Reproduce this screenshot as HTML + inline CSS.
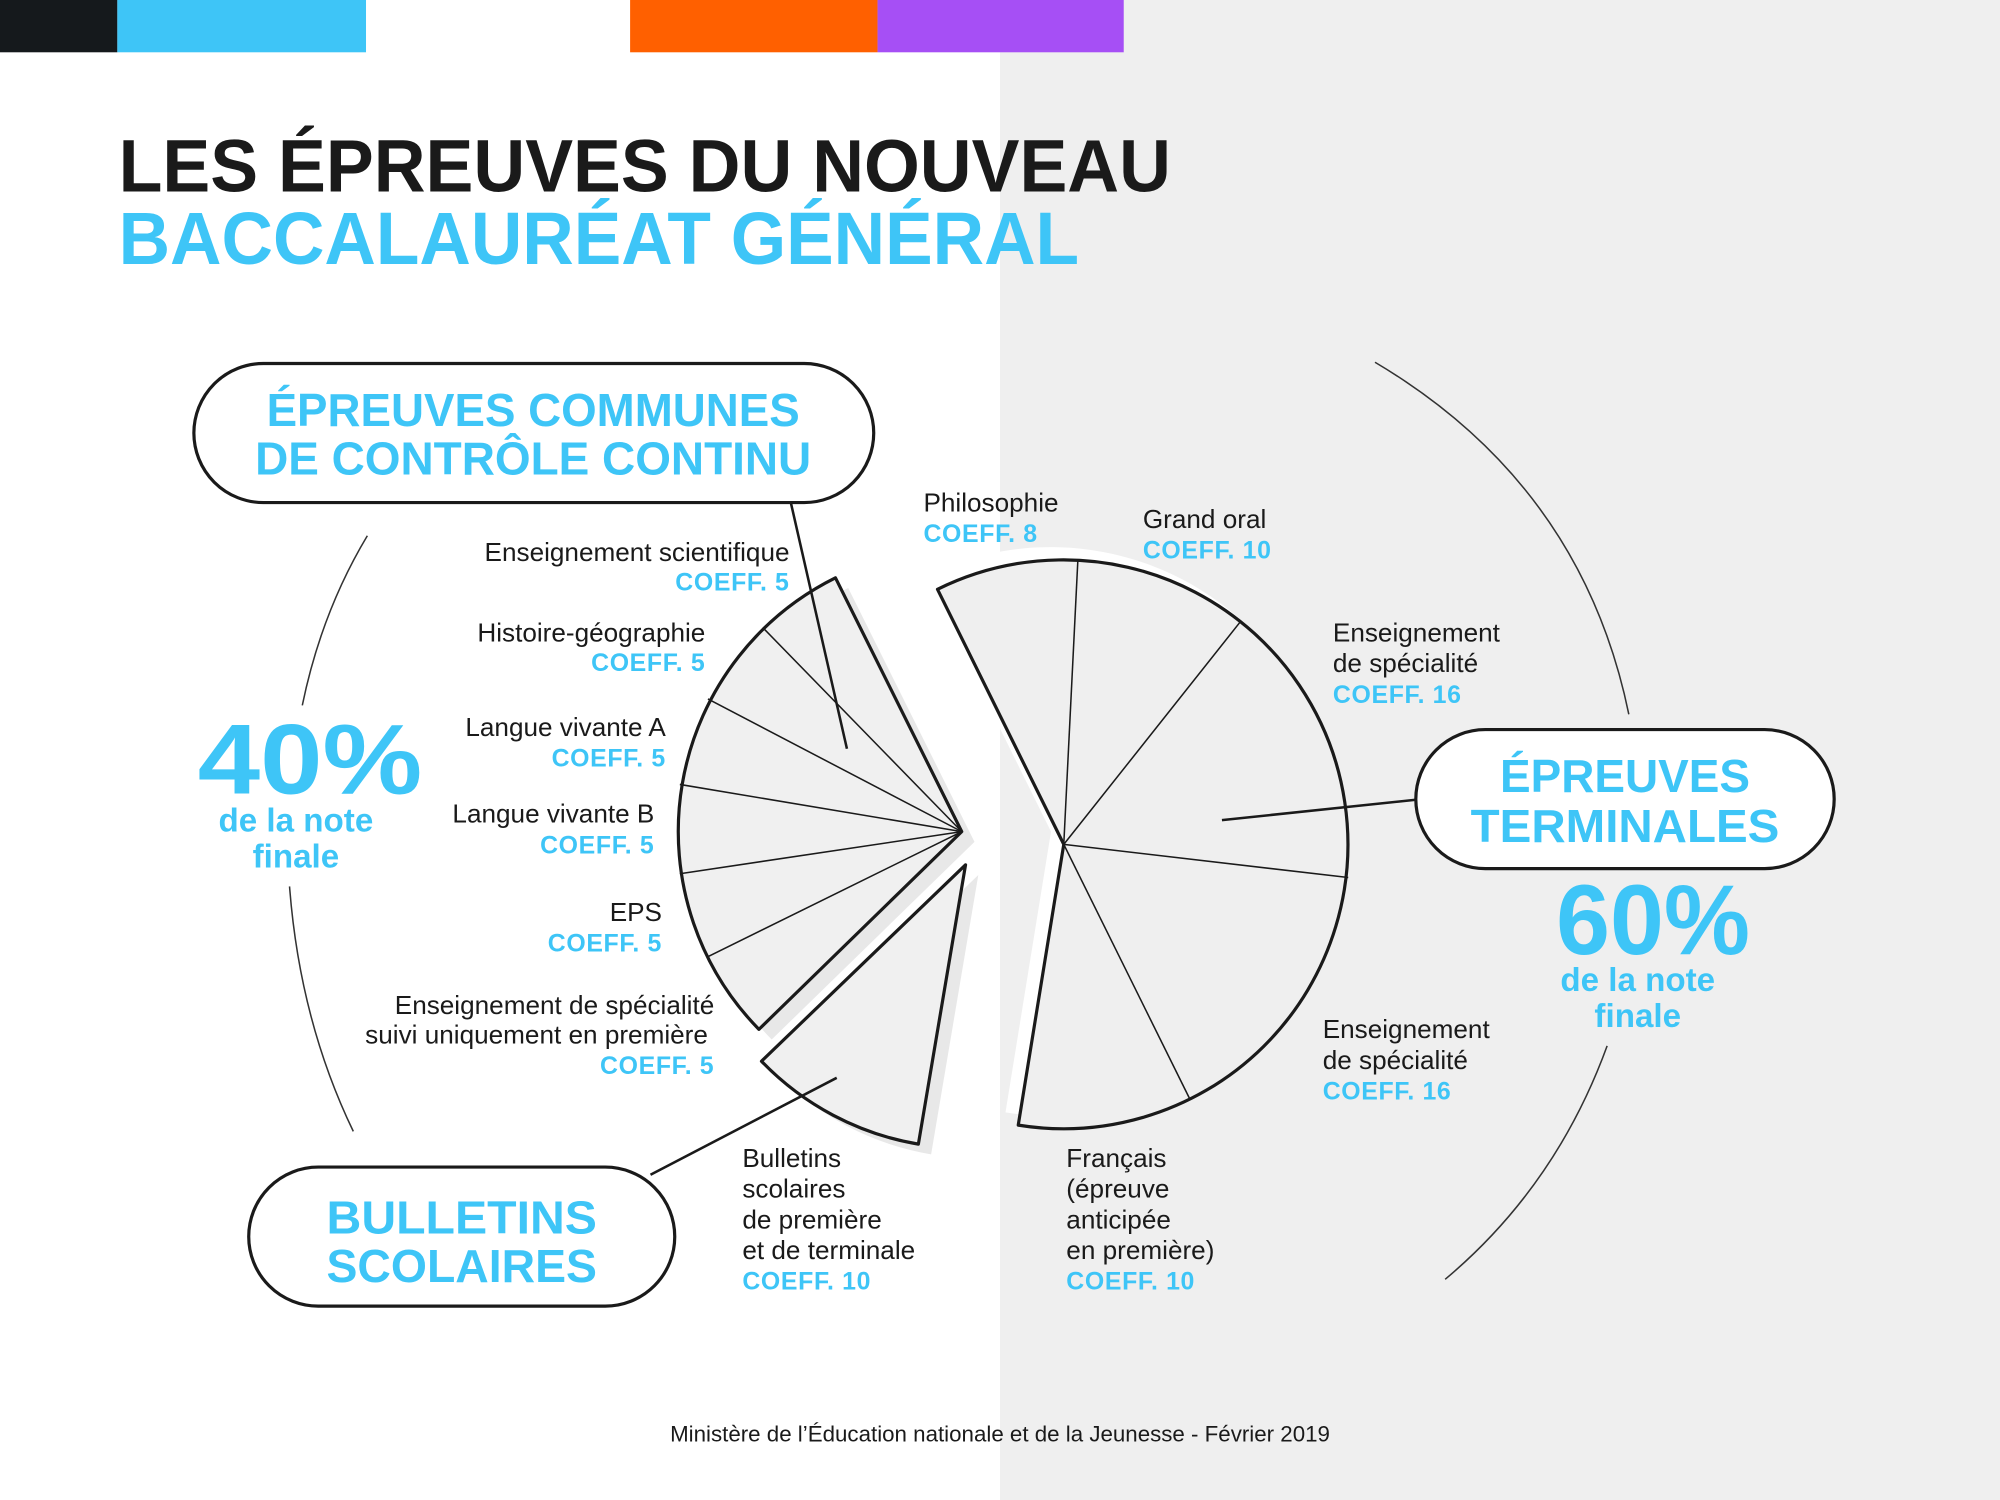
<!DOCTYPE html>
<html><head><meta charset="utf-8"><style>
html,body{margin:0;padding:0;background:#fff;}
svg{display:block;}
text{font-family:"Liberation Sans",sans-serif;}
.b{fill:#3ec5f7;font-weight:bold;}
.l{font-size:20.5px;fill:#1a1a1a;}
.c{font-size:19.5px;fill:#3ec5f7;font-weight:bold;letter-spacing:0.5px;}
.pill{fill:#fff;stroke:#1a1a1a;stroke-width:2.5;}
.ln{stroke:#1a1a1a;stroke-width:2;fill:none;}
.thin{stroke:#333;stroke-width:1.2;fill:none;}
</style></head><body>
<svg width="2000" height="1500" viewBox="0 0 1568 1176" xmlns="http://www.w3.org/2000/svg">
<rect x="784" y="0" width="784" height="1176" fill="#efefef"/>
<rect x="0" y="0" width="92" height="41" fill="#15191c"/>
<rect x="92" y="0" width="195" height="41" fill="#3ec5f7"/>
<rect x="287" y="0" width="207" height="41" fill="#fff"/>
<rect x="494" y="0" width="194" height="41" fill="#ff6000"/>
<rect x="688" y="0" width="193" height="41" fill="#a64ff5"/>

<text x="93" y="150" font-size="58" font-weight="bold" fill="#1a1a1a" textLength="825" lengthAdjust="spacingAndGlyphs">LES ÉPREUVES DU NOUVEAU</text>
<text x="93" y="207" font-size="58" font-weight="bold" fill="#3ec5f7" textLength="753" lengthAdjust="spacingAndGlyphs">BACCALAURÉAT GÉNÉRAL</text>

<path class="thin" d="M288,420 Q252,480 237,553"/>
<path class="thin" d="M227,695 Q235,800 277,887"/>
<path class="thin" d="M1078,284 Q1240,380 1277,560"/>
<path class="thin" d="M1260,820 Q1220,930 1133,1003"/>

<path d="M764,660 L665,461 A222,222 0 0 0 605,815 Z" fill="#e8e8e8"/>
<path d="M754,652 L655,453 A222,222 0 0 0 595,807 Z" fill="#f0f0f0" stroke="#1a1a1a" stroke-width="2.5" stroke-linejoin="round"/>
<g stroke="#1a1a1a" stroke-width="1.2">
<line x1="754" y1="652" x2="598" y2="492"/>
<line x1="754" y1="652" x2="555" y2="548"/>
<line x1="754" y1="652" x2="533" y2="615"/>
<line x1="754" y1="652" x2="533" y2="685"/>
<line x1="754" y1="652" x2="555" y2="750"/>
</g>
<path d="M767,686 L607,840 A222,222 0 0 0 730,905 Z" fill="#e8e8e8"/>
<path d="M757,678 L597,832 A222,222 0 0 0 720,897 Z" fill="#f0f0f0" stroke="#1a1a1a" stroke-width="2.5" stroke-linejoin="round"/>

<path d="M824,652 L725,452 A223,223 0 1 1 788.3,872.1 Z" fill="#fff"/>
<path d="M834,662 L735,462 A223,223 0 1 1 798.3,882.1 Z" fill="#efefef" stroke="#1a1a1a" stroke-width="2.5" stroke-linejoin="round"/>
<g stroke="#1a1a1a" stroke-width="1.2">
<line x1="834" y1="662" x2="845" y2="440"/>
<line x1="834" y1="662" x2="972" y2="488"/>
<line x1="834" y1="662" x2="1057" y2="688"/>
<line x1="834" y1="662" x2="933" y2="862"/>
</g>

<line class="ln" x1="620" y1="394" x2="664" y2="587"/>
<line class="ln" x1="1110" y1="627" x2="958" y2="643"/>
<line class="ln" x1="510" y1="921" x2="656" y2="845"/>

<rect class="pill" x="152" y="285" width="533" height="109" rx="54.5"/>
<text x="418" y="334" text-anchor="middle" class="b" font-size="36" textLength="418" lengthAdjust="spacingAndGlyphs">ÉPREUVES COMMUNES</text>
<text x="418" y="372" text-anchor="middle" class="b" font-size="36" textLength="436" lengthAdjust="spacingAndGlyphs">DE CONTRÔLE CONTINU</text>

<rect class="pill" x="1110" y="572" width="328" height="109" rx="54.5"/>
<text x="1274" y="621" text-anchor="middle" class="b" font-size="36" textLength="196" lengthAdjust="spacingAndGlyphs">ÉPREUVES</text>
<text x="1274" y="660" text-anchor="middle" class="b" font-size="36" textLength="242" lengthAdjust="spacingAndGlyphs">TERMINALES</text>

<rect class="pill" x="195" y="915" width="334" height="109" rx="54.5"/>
<text x="362" y="967" text-anchor="middle" class="b" font-size="36" textLength="212" lengthAdjust="spacingAndGlyphs">BULLETINS</text>
<text x="362" y="1005" text-anchor="middle" class="b" font-size="36" textLength="212" lengthAdjust="spacingAndGlyphs">SCOLAIRES</text>

<text x="155" y="622" class="b" font-size="78" textLength="176" lengthAdjust="spacingAndGlyphs">40%</text>
<text x="232" y="652" text-anchor="middle" class="b" font-size="26">de la note</text>
<text x="232" y="680" text-anchor="middle" class="b" font-size="26">finale</text>
<text x="1220" y="748" class="b" font-size="78" textLength="152" lengthAdjust="spacingAndGlyphs">60%</text>
<text x="1284" y="777" text-anchor="middle" class="b" font-size="26">de la note</text>
<text x="1284" y="805" text-anchor="middle" class="b" font-size="26">finale</text>

<g text-anchor="end">
<text x="619" y="440" class="l">Enseignement scientifique</text>
<text x="619" y="463" class="c">COEFF. 5</text>
<text x="553" y="503" class="l">Histoire-géographie</text>
<text x="553" y="526" class="c">COEFF. 5</text>
<text x="522" y="577" class="l">Langue vivante A</text>
<text x="522" y="601" class="c">COEFF. 5</text>
<text x="513" y="645" class="l">Langue vivante B</text>
<text x="513" y="669" class="c">COEFF. 5</text>
<text x="519" y="722" class="l">EPS</text>
<text x="519" y="746" class="c">COEFF. 5</text>
<text x="560" y="795" class="l">Enseignement de spécialité</text>
<text x="555" y="818" class="l">suivi uniquement en première</text>
<text x="560" y="842" class="c">COEFF. 5</text>
</g>

<text x="582" y="915" class="l">Bulletins</text>
<text x="582" y="939" class="l">scolaires</text>
<text x="582" y="963" class="l">de première</text>
<text x="582" y="987" class="l">et de terminale</text>
<text x="582" y="1011" class="c">COEFF. 10</text>

<text x="724" y="401" class="l">Philosophie</text>
<text x="724" y="425" class="c">COEFF. 8</text>
<text x="896" y="414" class="l">Grand oral</text>
<text x="896" y="438" class="c">COEFF. 10</text>
<text x="1045" y="503" class="l">Enseignement</text>
<text x="1045" y="527" class="l">de spécialité</text>
<text x="1045" y="551" class="c">COEFF. 16</text>
<text x="1037" y="814" class="l">Enseignement</text>
<text x="1037" y="838" class="l">de spécialité</text>
<text x="1037" y="862" class="c">COEFF. 16</text>
<text x="836" y="915" class="l">Français</text>
<text x="836" y="939" class="l">(épreuve</text>
<text x="836" y="963" class="l">anticipée</text>
<text x="836" y="987" class="l">en première)</text>
<text x="836" y="1011" class="c">COEFF. 10</text>

<text x="784" y="1130" text-anchor="middle" font-size="17.5" fill="#1a1a1a">Ministère de l’Éducation nationale et de la Jeunesse - Février 2019</text>
</svg>
</body></html>
